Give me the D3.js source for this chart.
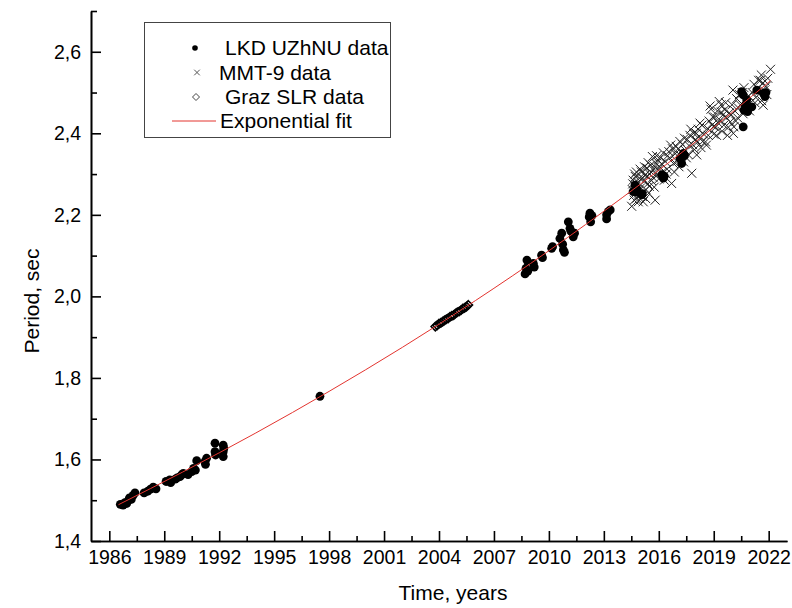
<!DOCTYPE html>
<html><head><meta charset="utf-8">
<script src="https://cdn.jsdelivr.net/npm/d3@7"></script>
<style>body{margin:0;background:#fff}svg{display:block}text{font-family:"Liberation Sans",Arial,sans-serif;fill:#000}</style>
</head><body><svg id="c" width="792" height="608"></svg>
<script>
// LKD UZhNU data: [year, period]
const lkdData = [
[1986.6,1.490],[1986.75,1.488],[1986.85,1.494],[1986.95,1.492],[1987.05,1.500],[1987.1,1.506],[1987.2,1.502],[1987.3,1.512],[1987.4,1.518],
[1987.9,1.518],[1988.1,1.522],[1988.25,1.527],[1988.4,1.532],[1988.55,1.528],
[1989.1,1.546],[1989.3,1.550],[1989.35,1.543],[1989.6,1.552],[1989.7,1.555],[1989.86,1.558],[1989.95,1.562],[1990.04,1.566],
[1990.3,1.563],[1990.5,1.570],[1990.6,1.578],[1990.7,1.574],[1990.77,1.597],[1991.22,1.595],[1991.31,1.603],[1991.25,1.588],
[1991.77,1.640],[1991.77,1.619],[1991.8,1.611],[1992.22,1.635],[1992.22,1.619],[1992.22,1.607],[1992.25,1.627],
[1997.5,1.755],
[2008.7,2.055],[2008.75,2.069],[2008.8,2.089],[2008.85,2.062],[2009.15,2.081],[2009.2,2.072],[2009.6,2.101],[2009.65,2.095],
[2010.15,2.118],[2010.2,2.122],[2010.6,2.142],[2010.7,2.155],[2010.79,2.114],[2010.75,2.128],[2010.85,2.108],
[2011.06,2.183],[2011.15,2.167],[2011.2,2.160],[2011.33,2.146],[2011.4,2.155],
[2012.2,2.195],[2012.24,2.204],[2012.28,2.183],[2012.35,2.198],[2013.15,2.200],[2013.24,2.208],[2013.35,2.212],[2013.15,2.190],
[2014.6,2.257],[2014.7,2.273],[2014.79,2.265],[2014.85,2.255],[2015.07,2.249],[2015.1,2.252],
[2016.16,2.298],[2016.25,2.290],[2016.3,2.295],[2017.16,2.339],[2017.25,2.326],[2017.34,2.351],[2017.4,2.345],
[2020.52,2.502],[2020.61,2.494],[2020.61,2.416],[2020.65,2.457],[2020.72,2.469],[2020.8,2.482],[2020.85,2.453],
[2021.08,2.465],[2021.35,2.506],[2021.71,2.498],[2021.8,2.490],[2021.85,2.500]
];
// MMT-9 data
const mmtData = [
[2014.52,2.221],[2014.55,2.262],[2014.6,2.285],[2014.63,2.248],[2014.68,2.300],[2014.72,2.294],[2014.75,2.270],[2014.8,2.241],[2014.85,2.280],[2014.9,2.258],[2014.95,2.290],[2015.0,2.266],
[2014.58,2.276],[2014.66,2.236],[2014.78,2.305],[2014.88,2.232],[2014.98,2.312],[2015.03,2.250],
[2015.05,2.305],[2015.1,2.245],[2015.15,2.232],[2015.2,2.282],[2015.25,2.298],[2015.3,2.262],[2015.35,2.315],[2015.4,2.276],[2015.45,2.253],[2015.5,2.300],
[2015.12,2.290],[2015.22,2.318],[2015.28,2.240],[2015.38,2.295],[2015.42,2.328],[2015.48,2.270],
[2015.55,2.322],[2015.6,2.284],[2015.65,2.343],[2015.7,2.310],[2015.75,2.268],[2015.8,2.236],[2015.85,2.326],[2015.9,2.297],[2015.95,2.335],[2016.0,2.288],
[2015.58,2.305],[2015.68,2.292],[2015.78,2.318],[2015.88,2.345],[2015.98,2.310],
[2016.05,2.318],[2016.1,2.340],[2016.2,2.305],[2016.3,2.285],[2016.35,2.331],[2016.45,2.312],
[2016.15,2.325],[2016.25,2.352],[2016.4,2.300],[2016.48,2.345],
[2016.55,2.355],[2016.6,2.340],[2016.65,2.371],[2016.7,2.277],[2016.8,2.326],[2016.9,2.350],[2017.0,2.331],
[2016.75,2.362],[2016.85,2.305],[2016.95,2.368],
[2017.05,2.362],[2017.1,2.318],[2017.2,2.345],[2017.3,2.372],[2017.35,2.330],[2017.45,2.358],
[2017.15,2.380],[2017.4,2.388],[2017.5,2.340],
[2017.55,2.385],[2017.6,2.348],[2017.7,2.395],[2017.8,2.302],[2017.85,2.372],[2017.9,2.400],[2018.0,2.385],
[2017.65,2.370],[2017.75,2.410],[2017.95,2.360],
[2018.05,2.400],[2018.07,2.347],[2018.15,2.410],[2018.2,2.392],[2018.3,2.365],[2018.35,2.420],[2018.45,2.398],
[2018.1,2.378],[2018.25,2.425],[2018.4,2.380],
[2018.55,2.379],[2018.6,2.371],[2018.65,2.412],[2018.75,2.430],[2018.8,2.467],[2018.85,2.459],[2018.9,2.420],[2019.0,2.398],
[2018.7,2.395],[2018.95,2.440],[2019.02,2.418],
[2019.05,2.440],[2019.1,2.415],[2019.2,2.455],[2019.3,2.478],[2019.35,2.432],[2019.4,2.470],[2019.45,2.405],[2019.5,2.445],
[2019.15,2.395],[2019.25,2.425],[2019.42,2.452],
[2019.55,2.420],[2019.6,2.458],[2019.7,2.438],[2019.75,2.395],[2019.85,2.450],[2019.9,2.428],[2020.0,2.470],
[2019.65,2.475],[2019.8,2.415],[2019.95,2.445],
[2020.05,2.506],[2020.07,2.400],[2020.1,2.416],[2020.15,2.455],[2020.25,2.485],[2020.3,2.438],[2020.4,2.495],[2020.45,2.470],
[2020.2,2.430],[2020.35,2.462],
[2020.55,2.500],[2020.6,2.448],[2020.7,2.480],[2020.8,2.463],[2020.9,2.492],[2021.0,2.475],
[2020.65,2.512],[2020.95,2.455],
[2021.1,2.500],[2021.2,2.520],[2021.3,2.488],[2021.4,2.510],[2021.25,2.475],[2021.45,2.530],
[2021.55,2.530],[2021.6,2.543],[2021.65,2.522],[2021.7,2.469],[2021.75,2.505],[2021.85,2.515],[2021.95,2.535],[2022.1,2.557],
[2021.62,2.480],[2021.8,2.528],[2021.9,2.495]
];
// Graz SLR data
const grazData = [
[2003.8,1.926],[2003.9,1.929],[2004.0,1.933],[2004.1,1.935],[2004.2,1.938],[2004.3,1.941],[2004.4,1.944],[2004.5,1.946],
[2004.6,1.950],[2004.7,1.952],[2004.8,1.954],[2004.9,1.958],[2005.0,1.961],[2005.1,1.963],[2005.2,1.966],[2005.3,1.970],
[2005.4,1.972],[2005.5,1.975],[2005.6,1.979]
];
// Exponential fit curve
const fitYears   = [1986.5, 1990, 1994, 1998, 2002, 2006, 2010, 2014, 2018, 2022.1];
const fitPeriods = [1.489, 1.569, 1.665, 1.767, 1.875, 1.990, 2.112, 2.242, 2.379, 2.529];
// Axis ticks
const xMajor = [1986,1989,1992,1995,1998,2001,2004,2007,2010,2013,2016,2019,2022];
const xMinor = [1987.5,1990.5,1993.5,1996.5,1999.5,2002.5,2005.5,2008.5,2011.5,2014.5,2017.5,2020.5];
const yMajor = [1.4,1.6,1.8,2.0,2.2,2.4,2.6];
const yMinor = [1.5,1.7,1.9,2.1,2.3,2.5,2.7];
const legendLabels = ["LKD UZhNU data","MMT-9 data","Graz SLR data","Exponential fit"];

const svg = d3.select("#c");
const x = d3.scaleLinear().domain([1985,2023]).range([91,787]);
const y = d3.scaleLinear().domain([1.4,2.7]).range([541,11]);
const commaFmt = d3.formatLocale({decimal:",",thousands:" ",grouping:[3],currency:["",""]}).format(".1f");

// MMT-9 crosses
const crossPath = s => `M${-s},${-s}L${s},${s}M${-s},${s}L${s},${-s}`;
svg.append("g").selectAll("path").data(mmtData).join("path")
  .attr("transform", d => `translate(${x(d[0])},${y(d[1])})`)
  .attr("d", crossPath(4.5)).attr("fill","none").attr("stroke","#222").attr("stroke-width",1);

// LKD dots
svg.append("g").selectAll("circle").data(lkdData).join("circle")
  .attr("cx", d => x(d[0])).attr("cy", d => y(d[1])).attr("r",4.4).attr("fill","#000");

// Graz diamonds
const diamondPath = s => `M0,${-s}L${s},0L0,${s}L${-s},0Z`;
svg.append("g").selectAll("path").data(grazData).join("path")
  .attr("transform", d => `translate(${x(d[0])},${y(d[1])})`)
  .attr("d", diamondPath(4.2)).attr("fill","none").attr("stroke","#000").attr("stroke-width",1.6);

// fit line
svg.append("path").datum(fitYears.map((t,i)=>[t,fitPeriods[i]]))
  .attr("d", d3.line().x(d=>x(d[0])).y(d=>y(d[1])).curve(d3.curveMonotoneX))
  .attr("fill","none").attr("stroke","#e3342f").attr("stroke-width",1);

// axes
function styleAxis(g){ g.select(".domain").attr("stroke","#000").attr("stroke-width",1.6);
  g.selectAll(".tick line").attr("stroke","#000").attr("stroke-width",1.6);
  g.selectAll("text").attr("font-size",19.5).attr("font-family","Liberation Sans, Arial, sans-serif").attr("fill","#000"); }
svg.append("g").attr("transform","translate(0,541)")
  .call(d3.axisBottom(x).tickValues(xMinor).tickSize(-5).tickSizeOuter(0).tickFormat(""))
  .call(styleAxis);
svg.append("g").attr("transform","translate(0,541)")
  .call(d3.axisBottom(x).tickValues(xMajor).tickSize(-10).tickSizeOuter(0).tickPadding(9).tickFormat(d3.format("d")))
  .call(styleAxis);
svg.append("g").attr("transform","translate(91,0)")
  .call(d3.axisLeft(y).tickValues(yMinor).tickSize(-6).tickSizeOuter(0).tickFormat(""))
  .call(styleAxis);
svg.append("g").attr("transform","translate(91,0)")
  .call(d3.axisLeft(y).tickValues(yMajor).tickSize(-10).tickSizeOuter(0).tickPadding(10).tickFormat(commaFmt))
  .call(styleAxis);

// axis titles
svg.append("text").attr("x",453).attr("y",600).attr("text-anchor","middle").attr("font-size",21).text("Time, years");
svg.append("text").attr("transform","translate(39,301) rotate(-90)").attr("text-anchor","middle").attr("font-size",21).text("Period, sec");

// legend
const lg = svg.append("g");
lg.append("rect").attr("x",144.5).attr("y",22.5).attr("width",246).attr("height",115)
  .attr("fill","#fff").attr("stroke","#444").attr("stroke-width",1);
const rowY = [48, 72.5, 97, 121];
const textX = [225, 219, 225, 220];
lg.append("circle").attr("cx",195).attr("cy",rowY[0]).attr("r",2.8).attr("fill","#000");
lg.append("path").attr("transform",`translate(197,${rowY[1]})`).attr("d",crossPath(2.8)).attr("stroke","#555").attr("fill","none");
lg.append("path").attr("transform",`translate(196,${rowY[2]})`).attr("d",diamondPath(3.5)).attr("stroke","#444").attr("fill","none");
lg.append("line").attr("x1",172).attr("x2",216).attr("y1",rowY[3]).attr("y2",rowY[3]).attr("stroke","#e3342f").attr("stroke-width",1);
lg.selectAll("text.l").data(legendLabels).join("text").attr("class","l")
  .attr("x",(d,i)=>textX[i]).attr("y",(d,i)=>rowY[i]+7).attr("font-size",21).text(d=>d);
</script></body></html>
